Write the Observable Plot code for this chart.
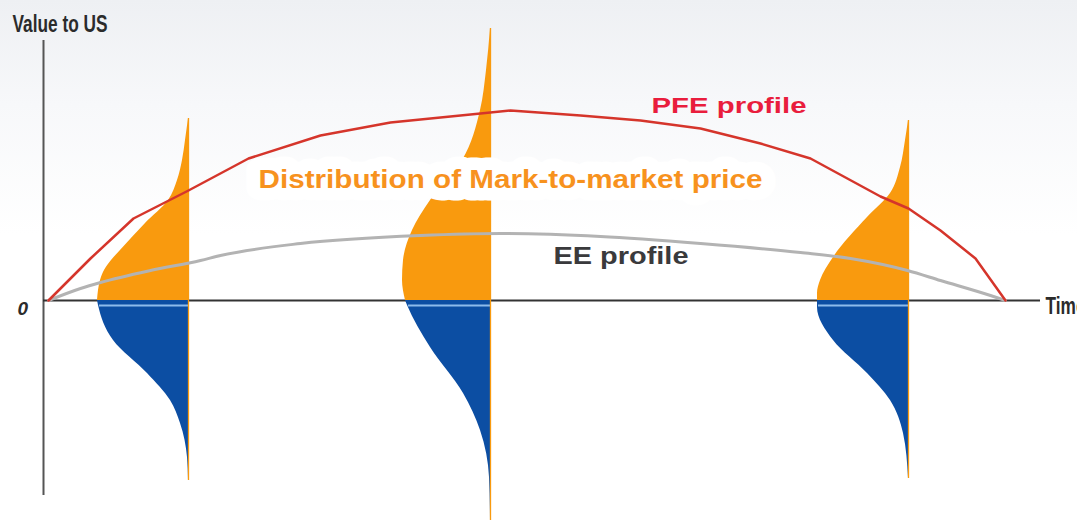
<!DOCTYPE html>
<html>
<head>
<meta charset="utf-8">
<script src="https://cdn.jsdelivr.net/npm/d3@7"></script>
<script src="https://cdn.jsdelivr.net/npm/@observablehq/plot@0.6"></script>
<style>
  html, body { margin: 0; padding: 0; }
  body { width: 1077px; height: 520px; overflow: hidden;
         background: linear-gradient(to bottom, #eef0f3 0%, #f7f8fa 20%, #ffffff 45%); }
  #chart svg { display: block; }
</style>
</head>
<body>
<div id="chart"></div>
<script>
// ---- Data (time units along x, value units along y; 0 = zero value) ----
// PFE profile (time, value)
const pfeTime  = [48, 65, 90, 133, 188, 248, 320, 390, 480, 510, 580, 640, 700, 760, 810, 880, 908, 940, 975, 1005];
const pfeValue = [0, 17, 42, 82, 110, 142, 165, 178, 187, 190, 185, 180, 172, 157, 142, 104, 92, 70, 42, 0];
// EE profile (time, value)
const eeTime  = [48, 80, 100, 150, 200, 220, 300, 420, 500, 600, 700, 800, 850, 907, 940, 990, 1005];
const eeValue = [0, 12, 18, 30, 40, 45, 57, 65, 67, 64, 57, 48, 42, 30, 20, 5, 0];

// Mark-to-market distributions at three dates: value levels and density (drawn sideways)
const distTimes = [188, 490, 908];
const distPosValues  = [
  [0, 10, 20, 30, 40, 50, 77, 100, 120, 140, 160, 182],
  [0, 20, 40, 70, 100, 140, 190, 230, 272],
  [0, 7, 20, 43, 83, 107, 133, 160, 180]
];
const distPosDensity = [
  [91, 90, 88, 84, 77, 68, 43, 20, 11, 6, 3, 0],
  [85, 88, 87, 78, 60, 28, 10, 4, 0],
  [91, 91, 88, 75, 41, 18, 8, 3, 0]
];
const distNegValues  = [
  [0, -5, -40, -73, -100, -123, -157, -180],
  [0, -5, -47, -93, -130, -177, -220],
  [0, -7, -40, -73, -100, -133, -178]
];
const distNegDensity = [
  [91, 90, 75, 41, 18, 8, 1, 0],
  [85, 83, 60, 27, 10, 1, 0],
  [91, 91, 75, 41, 18, 5, 0]
];

// Text labels
const labelPFE  = "PFE profile";
const labelEE   = "EE profile";
const labelDist = "Distribution of Mark-to-market price";
const labelY    = "Value to US";
const labelX    = "Time";
const labelZero = "0";

// ---- Build tables ----
const pfe = pfeTime.map((t, i) => ({t, v: pfeValue[i]}));
const ee  = eeTime.map((t, i) => ({t, v: eeValue[i]}));
const pos = [], neg = [], stems = [], stripes = [];
distTimes.forEach((t, k) => {
  distPosValues[k].forEach((v, i) => pos.push({k, t, v, w: distPosDensity[k][i]}));
  distNegValues[k].forEach((v, i) => neg.push({k, t, v, w: distNegDensity[k][i]}));
  stems.push({t, lo: d3.min(distNegValues[k]), hi: d3.max(distPosValues[k])});
  stripes.push({t, w: distNegDensity[k][1]});
});
neg.sort((a, b) => a.k - b.k || a.v - b.v);

const ORANGE = "#f99a0e", BLUE = "#0c4ea3", LIGHTBLUE = "#8dbbec";
const narrow = "'Liberation Sans Narrow', 'Arial Narrow', 'Liberation Sans', Arial, sans-serif";
const sans = "'Liberation Sans', Arial, Helvetica, sans-serif";

const chart = Plot.plot({
  width: 1077,
  height: 520,
  margin: 0,
  style: {background: "transparent", overflow: "hidden"},
  x: {domain: [0, 1077], axis: null},
  y: {domain: [-220, 300], axis: null},
  marks: [
    // axes
    Plot.ruleX([43], {y1: -195, y2: 260, stroke: "#555", strokeWidth: 2}),
    Plot.ruleY([0], {x1: 43, x2: 1040, stroke: "#333", strokeWidth: 2}),
    // distributions
    Plot.areaX(pos, {y: "v", x1: d => d.t - d.w, x2: "t", z: "k", fill: ORANGE, curve: "monotone-y"}),
    Plot.areaX(neg, {y: "v", x1: d => d.t - d.w, x2: "t", z: "k", fill: BLUE, curve: "monotone-y"}),
    Plot.ruleY(stripes, {y: -5, x1: d => d.t - d.w + 1, x2: "t", stroke: LIGHTBLUE, strokeWidth: 2.2}),
    Plot.ruleX(stems, {x: "t", y1: "lo", y2: "hi", stroke: ORANGE, strokeWidth: 1.3}),
    // label box over the middle distribution
    Plot.text([labelDist], {x: 258, y: 121, text: d => d, textAnchor: "start", fill: "#f7921e",
      stroke: "white", strokeWidth: 25, strokeLinejoin: "round", fontSize: 26, fontWeight: "bold", fontFamily: sans}),
    // profiles
    Plot.line(ee, {x: "t", y: "v", stroke: "#b3b3b3", strokeWidth: 3, curve: "monotone-x"}),
    Plot.line(pfe, {x: "t", y: "v", stroke: "#d5352b", strokeWidth: 2.5}),
    // labels
    Plot.text([labelPFE], {x: 651, y: 195, text: d => d, textAnchor: "start", fill: "#e91d3d",
      fontSize: 22, fontWeight: "bold", fontFamily: sans}),
    Plot.text([labelEE], {x: 553, y: 44, text: d => d, textAnchor: "start", fill: "#3a3a3c",
      fontSize: 23, fontWeight: "bold", fontFamily: sans}),
    Plot.text([labelY], {x: 12, y: 276, text: d => d, textAnchor: "start", fill: "#2b2b2b",
      fontSize: 23, fontWeight: "bold", fontFamily: narrow}),
    Plot.text([labelX], {x: 1045, y: -6, text: d => d, textAnchor: "start", fill: "#2b2b2b",
      fontSize: 23, fontWeight: "bold", fontFamily: narrow}),
    Plot.text([labelZero], {x: 17, y: -8, text: d => d, textAnchor: "start", fill: "#2b2b2b",
      fontSize: 19, fontWeight: "bold", fontStyle: "italic", fontFamily: sans})
  ]
});

// horizontal stretch of label glyphs to match the reference
const labelLengths = {};
labelLengths[labelDist] = 504;
labelLengths[labelPFE] = 155;
labelLengths[labelEE] = 135;
labelLengths[labelY] = 95;
labelLengths[labelX] = 40;
d3.select(chart).selectAll("text").each(function() {
  const L = labelLengths[this.textContent];
  if (L) { this.setAttribute("textLength", L); this.setAttribute("lengthAdjust", "spacingAndGlyphs"); }
});

document.getElementById("chart").append(chart);
</script>
</body>
</html>
